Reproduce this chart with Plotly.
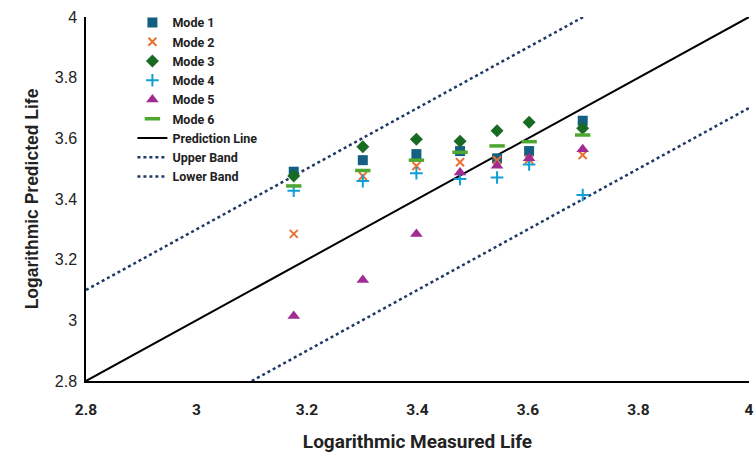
import plotly.graph_objects as go

measured = [3.176, 3.301, 3.398, 3.477, 3.544, 3.602, 3.699]
mode1 = [3.490, 3.528, 3.548, 3.558, 3.534, 3.558, 3.658]
mode2 = [3.285, 3.476, 3.509, 3.521, 3.528, 3.530, 3.545]
mode3 = [3.476, 3.572, 3.597, 3.590, 3.625, 3.653, 3.633]
mode4 = [3.427, 3.459, 3.485, 3.466, 3.471, 3.514, 3.413]
mode5 = [3.014, 3.133, 3.285, 3.487, 3.510, 3.534, 3.564]
mode6 = [3.443, 3.494, 3.528, 3.554, 3.575, 3.589, 3.611]

pred_x = [2.8, 4.0]
pred_y = [2.8, 4.0]
upper_x = [2.8, 3.7]
upper_y = [3.1, 4.0]
lower_x = [3.1, 4.0]
lower_y = [2.8, 3.7]

fig = go.Figure()

fig.add_trace(go.Scatter(x=pred_x, y=pred_y, mode="lines", name="Prediction Line",
                         line=dict(color="black", width=2), legendrank=7))
fig.add_trace(go.Scatter(x=upper_x, y=upper_y, mode="lines", name="Upper Band",
                         line=dict(color="#1F3864", width=2.5, dash="dot"), legendrank=8))
fig.add_trace(go.Scatter(x=lower_x, y=lower_y, mode="lines", name="Lower Band",
                         line=dict(color="#1F3864", width=2.5, dash="dot"), legendrank=9))

modes = [
    ("Mode 1", mode1, dict(symbol="square", size=10, color="#156082")),
    ("Mode 2", mode2, dict(symbol="x-thin-open", size=8, color="#E97132", line=dict(width=2, color="#E97132"))),
    ("Mode 3", mode3, dict(symbol="diamond", size=10, color="#196B24")),
    ("Mode 4", mode4, dict(symbol="cross-thin-open", size=9, color="#0F9ED5", line=dict(width=2, color="#0F9ED5"))),
    ("Mode 5", mode5, dict(symbol="triangle-up", size=11, color="#A02B93")),
    ("Mode 6", mode6, dict(symbol="line-ew-open", size=11, color="#4EA72E", line=dict(width=3.5, color="#4EA72E"))),
]
for i, (name, ys, mk) in enumerate(modes):
    fig.add_trace(go.Scatter(x=measured, y=ys, mode="markers", name=name,
                             marker=mk, legendrank=i + 1))

bold_font = "Roboto, Liberation Sans, sans-serif"

fig.update_layout(
    width=756, height=455,
    margin=dict(l=86, r=2, t=17, b=74),
    plot_bgcolor="white", paper_bgcolor="white",
    showlegend=True,
    legend=dict(x=0.07, y=1.025, xanchor="left", yanchor="top",
                bgcolor="rgba(0,0,0,0)", tracegroupgap=0,
                font=dict(family=bold_font, size=12.5, color="#222222", weight="bold")),
    xaxis=dict(range=[2.8, 4.0], dtick=0.2, tick0=2.8, showgrid=False, zeroline=False,
               showline=True, linecolor="black", linewidth=1.5, ticks="",
               ticklabelstandoff=14, ticklabeloverflow="allow",
               tickfont=dict(family=bold_font, size=15.5, color="#222222", weight="bold"),
               title=dict(text="Logarithmic Measured Life", standoff=16,
                          font=dict(family=bold_font, size=19, color="#222222", weight="bold"))),
    yaxis=dict(range=[2.8, 4.0], dtick=0.2, tick0=2.8, showgrid=False, zeroline=False,
               showline=True, linecolor="black", linewidth=1.5, ticks="",
               ticklabelstandoff=4,
               tickfont=dict(family="Liberation Sans, Arial, sans-serif", size=16, color="#222222"),
               title=dict(text="Logarithmic Predicted Life", standoff=12,
                          font=dict(family="Liberation Sans, Arial, sans-serif", size=17.5, color="#222222", weight="bold"))),
)

fig.write_html("out.html")
